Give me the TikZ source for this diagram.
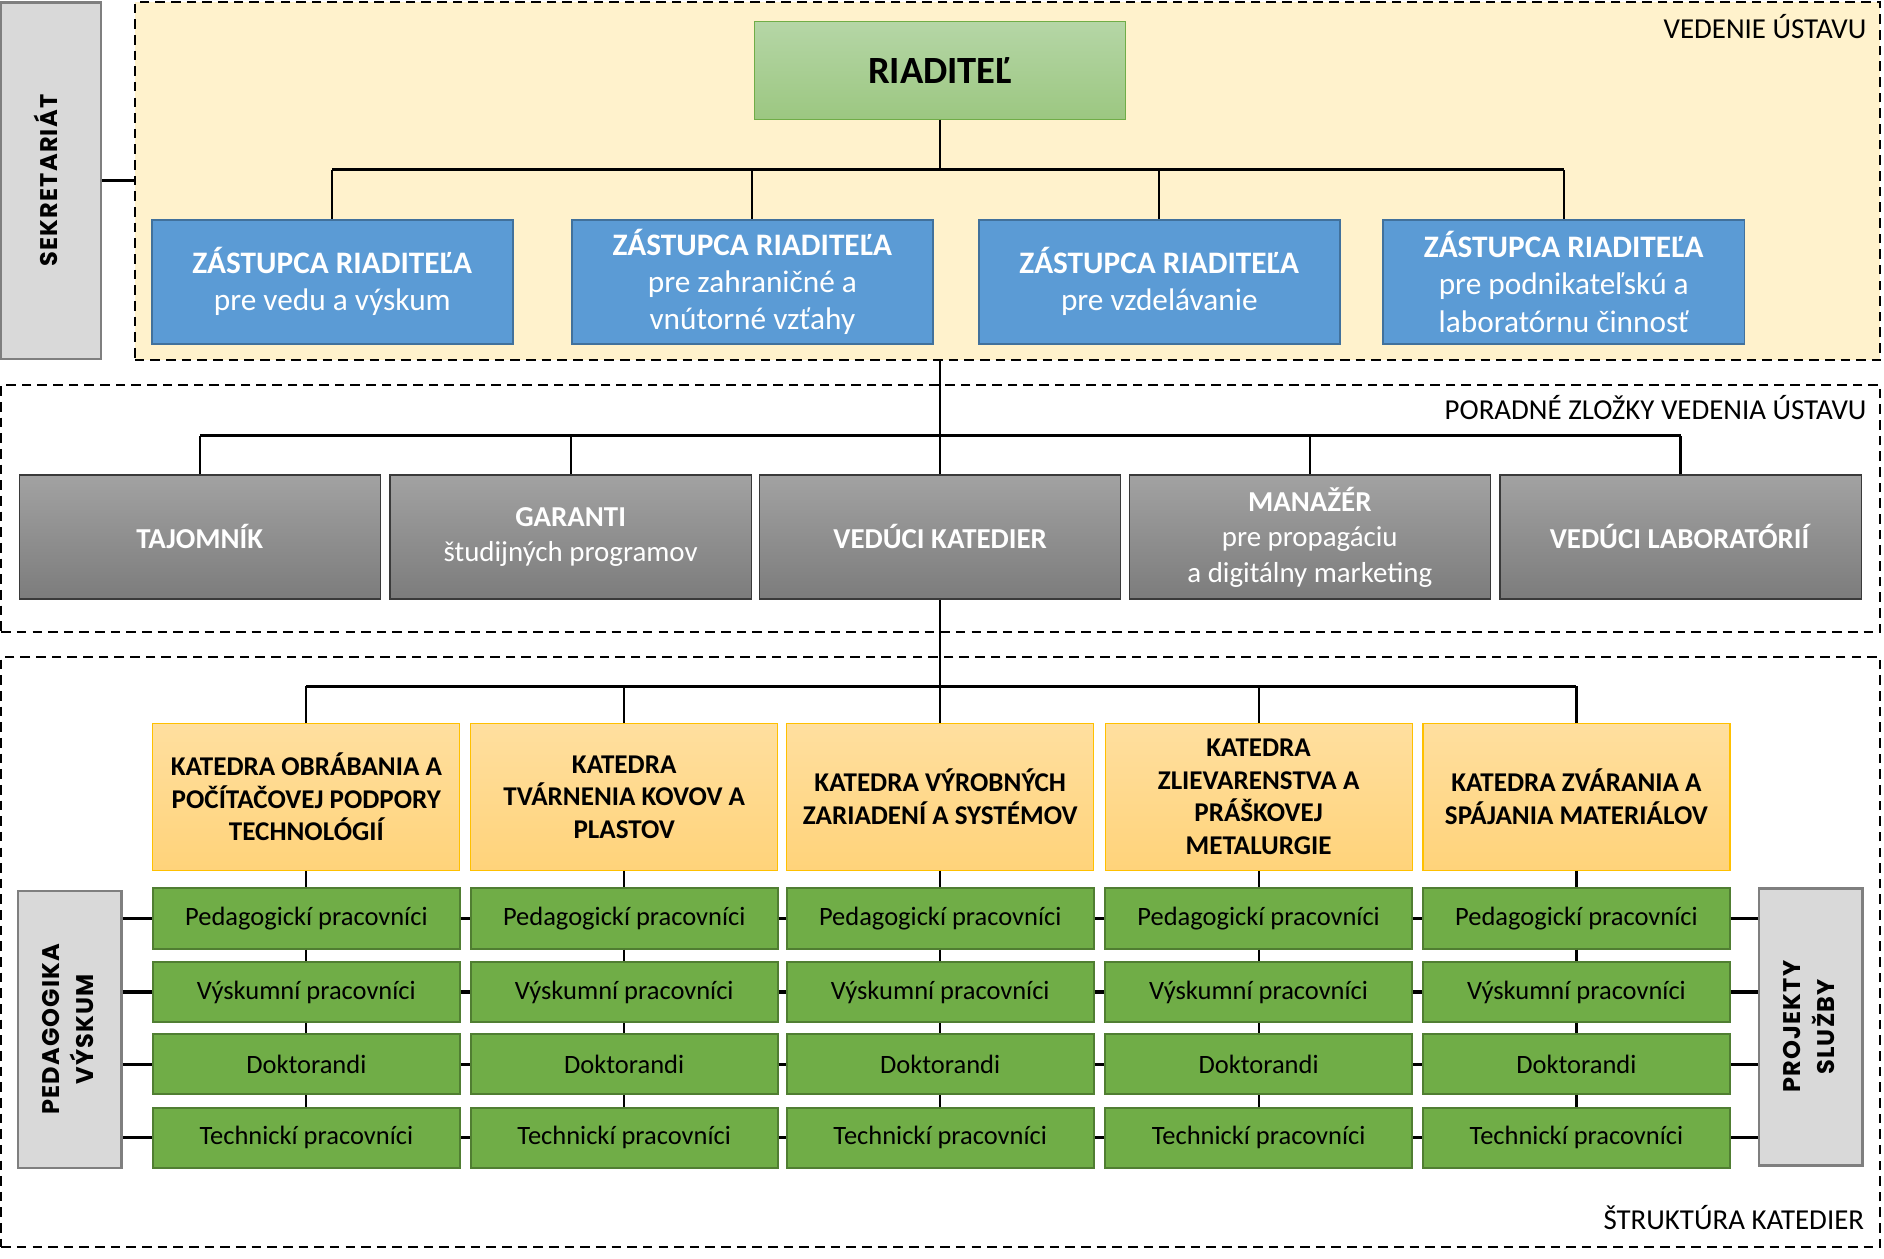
\documentclass[tikz,border=0pt]{standalone}
\usepackage{fontspec}
\setmainfont{Carlito}
\newfontfamily\gothfont{Poppins}[LetterSpace=5]
\usepackage{graphicx}
\usepackage{tikz}
\usetikzlibrary{positioning}
\definecolor{vedfill}{HTML}{FFF2CC}
\definecolor{riadtop}{HTML}{B5D6A6}
\definecolor{riadbot}{HTML}{9CC781}
\definecolor{riadline}{HTML}{70AD47}
\definecolor{zastfill}{HTML}{5B9BD5}
\definecolor{zastline}{HTML}{41719C}
\definecolor{sivtop}{HTML}{A2A2A2}
\definecolor{sivbot}{HTML}{7C7C7C}
\definecolor{sivline}{HTML}{3A3A3A}
\definecolor{kattop}{HTML}{FFDF9F}
\definecolor{katbot}{HTML}{FFD37A}
\definecolor{katline}{HTML}{FFC000}
\definecolor{pracfill}{HTML}{70AD47}
\definecolor{pracline}{HTML}{507E32}
\definecolor{bocfill}{HTML}{D9D9D9}
\definecolor{bocline}{HTML}{7F7F7F}
\newcommand{\zastupca}[1]{\textbf{ZÁSTUPCA RIADITEĽA}\\#1}
\newcommand{\bocny}[1]{\rotatebox{90}{\gothfont\bfseries\fontsize{10}{14}\selectfont\begin{tabular}{@{}c@{}}#1\end{tabular}}}
\tikzstyle{sekcia} = [draw=black, dash pattern=on 4pt off 2.5pt, line width=0.8pt, inner sep=0pt]
\tikzstyle{seklabel} = [inner sep=0pt, font=\fontsize{12}{14}\selectfont]
\tikzstyle{bocbox} = [draw=bocline, fill=bocfill, line width=1pt, inner sep=0pt]
\tikzstyle{riaditel} = [draw=riadline, top color=riadtop, bottom color=riadbot, minimum width=154pt, minimum height=40.5pt, font=\fontsize{16}{19}\selectfont\bfseries]
\tikzstyle{zastbox} = [draw=zastline, fill=zastfill, line width=0.7pt, text=white, align=center, inner sep=2pt, minimum width=150pt, minimum height=51.5pt, font=\fontsize{13}{15.5}\selectfont]
\tikzstyle{porbox} = [draw=sivline, top color=sivtop, bottom color=sivbot, line width=0.5pt, text=white, align=center, inner sep=2pt, minimum width=150pt, minimum height=51.5pt, font=\fontsize{12}{14.75}\selectfont]
\tikzstyle{katbox} = [draw=katline, top color=kattop, bottom color=katbot, line width=0.5pt, align=center, inner sep=2pt, minimum width=127.5pt, minimum height=61pt, font=\fontsize{11.25}{13.5}\selectfont\bfseries]
\tikzstyle{prac} = [draw=pracline, fill=pracfill, line width=0.8pt, inner sep=2pt, minimum width=127.5pt, minimum height=25pt, font=\fontsize{11}{13}\selectfont]
\tikzstyle{zbernica} = [line width=1.2pt]
\tikzstyle{spoj} = [line width=0.9pt]
\tikzstyle{bocspoj} = [line width=1.3pt]
\begin{document}
\begin{tikzpicture}[x=0.5pt,y=-0.5pt]
	\useasboundingbox (0,0) rectangle (1565,1045);
	\node[sekcia, fill=vedfill, minimum width=725pt, minimum height=148.5pt] (vedenie) at (837,150.5) {};
	\node[sekcia, fill=white, minimum width=780.5pt, minimum height=102.5pt] (poradne) at (781.5,422.5) {};
	\node[sekcia, fill=white, minimum width=780.5pt, minimum height=245pt] (struktura) at (781.5,791) {};
	\node[seklabel, below left=5pt and 6pt] at (vedenie.north east) {VEDENIE ÚSTAVU};
	\node[seklabel, below left=4.5pt and 6pt] at (poradne.north east) {PORADNÉ ZLOŽKY VEDENIA ÚSTAVU};
	\node[seklabel, above left=7.5pt and 7pt] at (struktura.south east) {ŠTRUKTÚRA KATEDIER};

	\node[bocbox, minimum width=41.5pt, minimum height=148pt] (sekr) at (42.5,150) {\bocny{SEKRETARIÁT}};
	\node[bocbox, minimum width=43pt, minimum height=115pt] (ped) at (58,855) {\bocny{PEDAGOGIKA\\VÝSKUM}};
	\node[bocbox, minimum width=43pt, minimum height=115pt] (proj) at (1504,853) {\bocny{PROJEKTY\\SLUŽBY}};

	\node[riaditel] (riad) at (781,58.5) {RIADITEĽ};
	\node[zastbox] (zast1) at (276,234) {\zastupca{pre vedu a výskum}};
	\node[zastbox] (zast2) at (625,234) {\zastupca{pre zahraničné a\\vnútorné vzťahy}};
	\node[zastbox] (zast3) at (963,234) {\zastupca{pre vzdelávanie}};
	\node[zastbox] (zast4) at (1299,234) {\zastupca{pre podnikateľskú a\\laboratórnu činnosť}};

	\node[porbox] (porad1) at (166,446) {\textbf{TAJOMNÍK}};
	\node[porbox] (porad2) at (474,446) {\textbf{GARANTI}\\študijných programov};
	\node[porbox] (porad3) at (781,446) {\textbf{VEDÚCI KATEDIER}};
	\node[porbox] (porad4) at (1088,446) {\textbf{MANAŽÉR}\\pre propagáciu\\a digitálny marketing};
	\node[porbox] (porad5) at (1396,446) {\textbf{VEDÚCI LABORATÓRIÍ}};

	\node[katbox] (kat1) at (254.5,662) {KATEDRA OBRÁBANIA A\\POČÍTAČOVEJ PODPORY\\TECHNOLÓGIÍ};
	\node[katbox] (kat2) at (518.5,662) {KATEDRA\\TVÁRNENIA KOVOV A\\PLASTOV};
	\node[katbox] (kat3) at (781,662) {KATEDRA VÝROBNÝCH\\ZARIADENÍ A SYSTÉMOV};
	\node[katbox] (kat4) at (1045.5,662) {KATEDRA\\ZLIEVARENSTVA A\\PRÁŠKOVEJ\\METALURGIE};
	\node[katbox] (kat5) at (1309.5,662) {KATEDRA ZVÁRANIA A\\SPÁJANIA MATERIÁLOV};

	\foreach \kol/\x in {1/254.5,2/518.5,3/781,4/1045.5,5/1309.5} {
		\foreach \rad/\y/\nazov in {1/763/Pedagogickí pracovníci,2/824/Výskumní pracovníci,3/884/Doktorandi,4/945/Technickí pracovníci}
			\node[prac] (g\kol\rad) at (\x,\y) {\nazov};
	}

	\coordinate (busA) at (781,141);
	\coordinate (busB) at (781,362);
	\coordinate (busC) at (781,570);
	\draw[bocspoj] (sekr) -- (sekr -| vedenie.west);
	\draw[spoj] (riad) -- (busA);
	\draw[zbernica] (zast1.north |- busA) -- (zast4.north |- busA);
	\foreach \i in {1,...,4} \draw[spoj] (zast\i) -- (zast\i.north |- busA);
	\draw[spoj] (vedenie.south -| busB) -- (busB);
	\draw[zbernica] (porad1.north |- busB) -- (porad5.north |- busB);
	\foreach \i in {1,...,5} \draw[spoj] (porad\i) -- (porad\i.north |- busB);
	\draw[spoj] (porad3) -- (busC);
	\draw[zbernica] (kat1.north |- busC) -- (kat5.north |- busC);
	\foreach \i in {1,...,5} {
		\draw[spoj] (kat\i) -- (kat\i.north |- busC);
		\draw[spoj] (kat\i) -- (g\i1);
		\foreach \rad/\dalsi in {1/2,2/3,3/4} \draw[spoj] (g\i\rad) -- (g\i\dalsi);
	}
	\foreach \rad in {1,...,4} {
		\draw[bocspoj] (ped.east |- g1\rad) -- (g1\rad);
		\draw[bocspoj] (g5\rad) -- (proj.west |- g5\rad);
		\foreach \kol/\dalsi in {1/2,2/3,3/4,4/5} \draw[bocspoj] (g\kol\rad) -- (g\dalsi\rad);
	}
\end{tikzpicture}
\end{document}
